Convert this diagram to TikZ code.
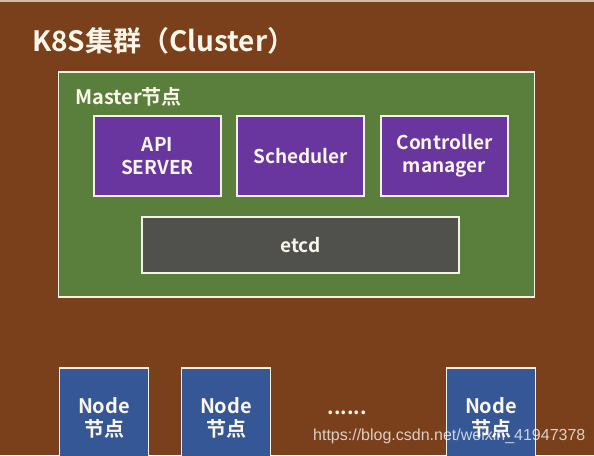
\documentclass[tikz,border=0pt]{standalone}
\usepackage{fontspec}
\setmainfont{Noto Sans CJK SC}[BoldFont={* Bold}]
\newfontfamily\wmfont{Liberation Sans}
\definecolor{bgbrown}{HTML}{7A401C}
\definecolor{mgreen}{HTML}{5A7F3C}
\definecolor{mpurple}{HTML}{6936A0}
\definecolor{mgrey}{HTML}{50504C}
\definecolor{nblue}{HTML}{355796}
\definecolor{edgec}{HTML}{F2F2E6}
\definecolor{txtc}{HTML}{FBF6EA}
\begin{document}
\begin{tikzpicture}[x=1pt,y=-1pt,
  boxbase/.style={draw=edgec,line width=1.6pt,inner sep=0pt,text=txtc,font=\bfseries\fontsize{19}{23}\selectfont,align=center},
  compbox/.style={boxbase,fill=mpurple,minimum width=127pt,minimum height=80pt},
  etcdbox/.style={boxbase,fill=mgrey,minimum width=317pt,minimum height=56pt},
  nodebox/.style={boxbase,fill=nblue,minimum width=89pt,minimum height=100pt,font=\bfseries\fontsize{20}{23}\selectfont},
  lbl/.style={text=txtc,inner sep=0pt,anchor=west}]
\useasboundingbox (0,0) rectangle (594,455);
\fill[bgbrown] (0,0) rectangle (594,455);
\fill[edgec!70!bgbrown] (0,0) rectangle (594,1.5);
\node[lbl,font=\bfseries\fontsize{28}{30}\selectfont] (title) at (32,41) {K8S集群（Cluster）};
\node[draw=edgec,line width=1.6pt,fill=mgreen,minimum width=476pt,minimum height=225pt,inner sep=0pt] (master) at (296.5,184.5) {};
\node[lbl,font=\bfseries\fontsize{20}{22}\selectfont] (mlabel) at (75,97) {Master节点};
\node[compbox] (api) at (157.5,156) {API\\SERVER};
\node[compbox] (sched) at (300.5,156) {Scheduler};
\node[compbox] (ctrl) at (444.5,156) {Controller\\manager};
\node[etcdbox] (etcd) at (300.5,245) {etcd};
\begin{scope}
\clip (0,0) rectangle (594,455);
\node[nodebox] (n1) at (104,418) {Node\\节点};
\node[nodebox] (n2) at (226,418) {Node\\节点};
\node[nodebox] (n3) at (491,418) {Node\\节点};
\end{scope}
\node[text=txtc,font=\bfseries\fontsize{20}{20}\selectfont,inner sep=0pt] (dots) at (347,413) {......};
\node[text=white,opacity=0.75,font=\wmfont\fontsize{16}{16}\selectfont,inner sep=0pt,anchor=base west] (wm) at (313,440) {https://blog.csdn.net/weixin\_41947378};
\end{tikzpicture}
\end{document}
